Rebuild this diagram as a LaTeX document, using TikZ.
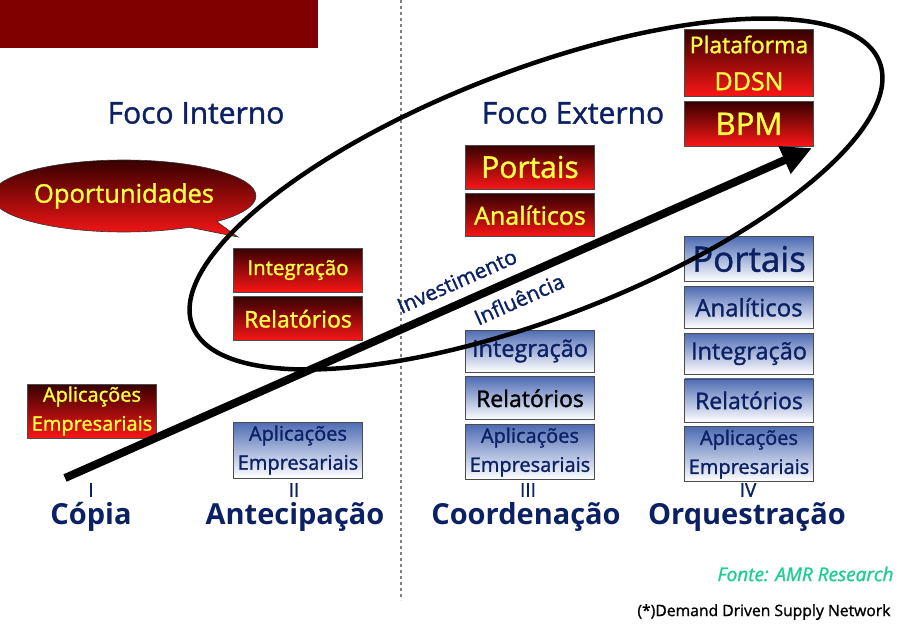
\documentclass[tikz,border=0pt]{standalone}
\usepackage{fontspec}
\setmainfont{Open Sans}
\newfontfamily\semibf{Open Sans}[FakeBold=1.3]
\usepackage{tikz}
\usetikzlibrary{arrows.meta,positioning,calc,shapes.callouts}
\definecolor{navytext}{RGB}{12,32,100}
\definecolor{headred}{RGB}{128,0,0}
\definecolor{redtop}{RGB}{55,0,0}
\definecolor{redbot}{RGB}{250,22,22}
\definecolor{bluetop}{RGB}{78,108,180}
\definecolor{yellowtext}{RGB}{255,255,70}
\definecolor{fontegreen}{RGB}{30,205,145}

\begin{document}
\begin{tikzpicture}[
  x=1pt, y=-1pt,
  node distance=4pt,
  redbox/.style={draw=black!70, line width=0.8pt, top color=redtop, bottom color=redbot,
    text=yellowtext, minimum width=129pt, inner sep=1pt, align=center},
  bluebox/.style={draw=black!70, line width=0.8pt, top color=bluetop, bottom color=white,
    text=navytext, minimum width=129pt, inner sep=1pt, align=center},
  stage/.style={text=navytext, font=\fontsize{29}{30}\selectfont\bfseries},
  roman/.style={text=navytext, font=\fontsize{19}{20}\selectfont\semibf},
  foco/.style={text=navytext, font=\fontsize{30}{32}\selectfont\semibf}
]
\useasboundingbox (0,0) rectangle (919,629);
\fill[headred] (0,0) rectangle (318,48);
\draw[gray, dashed, line width=1.6pt] (401,0) -- (401,600);

\node[foco] (fint) at (196,113) {Foco Interno};
\node[foco] (fext) at (573,113) {Foco Externo};

% column I
\node[redbox, minimum height=54pt, font=\fontsize{20}{29}\selectfont\semibf] (apl1) at (92,411) {Aplicações\\Empresariais};

% column II
\node[redbox, minimum height=44pt, font=\fontsize{20.5}{22}\selectfont\semibf] (int2) at (298,270) {Integração};
\node[redbox, minimum height=44pt, font=\fontsize{23}{24}\selectfont\semibf, below=of int2] (rel2) {Relatórios};
\node[bluebox, minimum height=56pt, font=\fontsize{20}{29}\selectfont\semibf] (apl2) at (298,450) {Aplicações\\Empresariais};

% column III
\node[redbox, minimum height=44pt, font=\fontsize{30}{31}\selectfont\semibf] (por3) at (530,167) {Portais};
\node[redbox, minimum height=43pt, font=\fontsize{25}{26}\selectfont\semibf, below=of por3] (ana3) {Analíticos};
\node[bluebox, minimum height=42pt, font=\fontsize{23.5}{24}\selectfont\semibf] (int3) at (530,351) {Integração};
\node[bluebox, minimum height=43pt, font=\fontsize{23}{24}\selectfont\semibf, text=black, below=of int3] (rel3) {Relatórios};
\node[bluebox, minimum height=55pt, font=\fontsize{20}{29}\selectfont\semibf, below=of rel3] (apl3) {Aplicações\\Empresariais};

% column IV
\node[redbox, minimum height=67pt, font=\fontsize{23}{37}\selectfont\semibf] (ddsn4) at (749,63) {Plataforma\\{\fontsize{25}{26}\selectfont DDSN}};
\node[redbox, minimum height=45pt, font=\fontsize{31}{32}\selectfont\semibf, below=of ddsn4] (bpm4) {BPM};
\node[bluebox, minimum height=45pt, font=\fontsize{35}{36}\selectfont\semibf] (por4) at (749,259) {Portais};
\node[bluebox, minimum height=42pt, font=\fontsize{24}{25}\selectfont\semibf, below=of por4] (ana4) {Analíticos};
\node[bluebox, minimum height=41pt, font=\fontsize{23.5}{24}\selectfont\semibf, below=of ana4] (int4) {Integração};
\node[bluebox, minimum height=43pt, font=\fontsize{23}{24}\selectfont\semibf, below=of int4] (rel4) {Relatórios};
\node[bluebox, minimum height=55pt, font=\fontsize{20}{29}\selectfont\semibf, below=of rel4] (apl4) {Aplicações\\Empresariais};

% stages
\node[roman] (r1) at (91,490) {I};
\node[roman] (r2) at (294,490) {II};
\node[roman] (r3) at (528,490) {III};
\node[roman] (r4) at (748,490) {IV};
\node[stage] (copia) at (91,517) {Cópia};
\node[stage] (antec) at (295,517) {Antecipação};
\node[stage] (coord) at (526,517) {Coordenação};
\node[stage] (orq) at (747,517) {Orquestração};

% callout
\coordinate (tip) at (238,237);
\node[ellipse callout, callout absolute pointer={(tip)}, draw=black!80, line width=0.6pt,
  top color=redtop, bottom color=redbot, minimum width=238pt, minimum height=72pt,
  text=yellowtext, font=\fontsize{25.5}{27}\selectfont\semibf] (oport) at (124,196) {Oportunidades};

% big ellipse and arrow
\coordinate (ctr) at (536,194);
\draw[line width=4.5pt, rotate around={21:(ctr)}] (ctr) ellipse [x radius=368, y radius=124];
\coordinate (start) at (65,478);
\coordinate (end) at (812,148);
\draw[line width=8pt, -{Triangle[length=30pt,width=28pt]}] (start) -- (end);
\node[text=navytext, rotate=24, font=\fontsize{21}{22}\selectfont\semibf] (invest) at (457,281) {Investimento};
\node[text=navytext, rotate=24, font=\fontsize{21}{22}\selectfont\semibf] (influ) at (519,299) {Influência};

% notes
\node[anchor=east, text=fontegreen, font=\fontsize{19}{20}\selectfont\semibf\itshape] (fonte) at (897,574) {Fonte: AMR Research};
\node[anchor=east, font=\fontsize{15.7}{16}\selectfont\semibf] (ddsnnote) at (894,612) {(*)Demand Driven Supply Network};
\end{tikzpicture}
\end{document}
